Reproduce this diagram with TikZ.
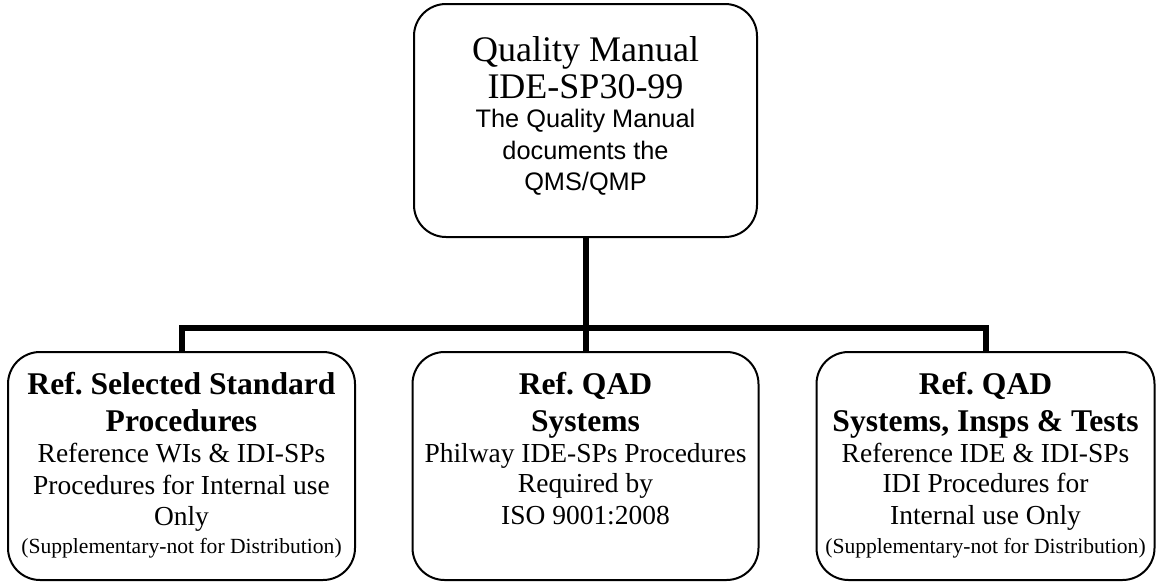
\documentclass[tikz,border=0pt]{standalone}
\usepackage{fontspec}
\setmainfont{Liberation Serif}
\setsansfont{Liberation Sans}
\usetikzlibrary{positioning}
\frenchspacing

\newcommand{\qmtitle}[1]{{\rmfamily\fontsize{27}{30}\selectfont #1}}
\newcommand{\boxhead}[1]{{\fontsize{23.7}{27}\selectfont\bfseries #1}}
\newcommand{\boxnote}[1]{{\fontsize{16.2}{18}\selectfont #1}}

\begin{document}
\begin{tikzpicture}[
x=0.75pt,
y=-0.75pt,
unit/.style={
  draw,
  line width=1.5pt,
  rounded corners=24pt,
  inner sep=0pt
  },
txt/.style={
  align=center,
  inner sep=0pt,
  font=\fontsize{20.6}{23.5}\selectfont
  },
link/.style={
  line width=4.5pt,
  line join=miter
  }
]
\useasboundingbox (0,0) rectangle (1156,582);

% top box
\node[unit, minimum width=257.25pt, minimum height=174.75pt] at (585.5,120.5) (qm) {};
\node[txt, font=\sffamily\fontsize{19}{23.5}\selectfont, below=24.75pt of qm.north] (qmtxt)
  {\qmtitle{Quality Manual}\\[3.5pt]
   \qmtitle{IDE-SP30-99}\\[-1.75pt]
   The Quality Manual\\
   documents the\\
   QMS/QMP};

% bottom boxes
\node[unit, minimum width=260.25pt, minimum height=171pt] at (181.5,466) (lbox) {};
\node[unit, minimum width=259.5pt, minimum height=171pt] at (585.5,466) (mbox) {};
\node[unit, minimum width=253.5pt, minimum height=171pt] at (985.5,466) (rbox) {};

\node[txt, below=15.75pt of lbox.north] (ltxt)
  {\boxhead{Ref. Selected Standard}\\[4.25pt]
   \boxhead{Procedures}\\
   Reference WIs \& IDI-SPs\\
   Procedures for Internal use\\
   Only\\[-2.5pt]
   \boxnote{(Supplementary-not for Distribution)}};

\node[txt, below=15.75pt of mbox.north] (mtxt)
  {\boxhead{Ref. QAD}\\[4.25pt]
   \boxhead{Systems}\\
   Philway IDE-SPs Procedures\\[-1pt]
   Required by\\
   ISO 9001:2008};

\node[txt, below=15.75pt of rbox.north] (rtxt)
  {\boxhead{Ref. QAD}\\[4.25pt]
   \boxhead{Systems, Insps \& Tests}\\
   Reference IDE \& IDI-SPs\\[-1pt]
   IDI Procedures for\\
   Internal use Only\\[-1.5pt]
   \boxnote{(Supplementary-not for Distribution)}};

% connectors
\coordinate (bus) at (585.5,328);
\draw[link] (qm.south) -- (mbox.north);
\draw[link] (lbox.north) |- (bus) -| (rbox.north);
\end{tikzpicture}
\end{document}
